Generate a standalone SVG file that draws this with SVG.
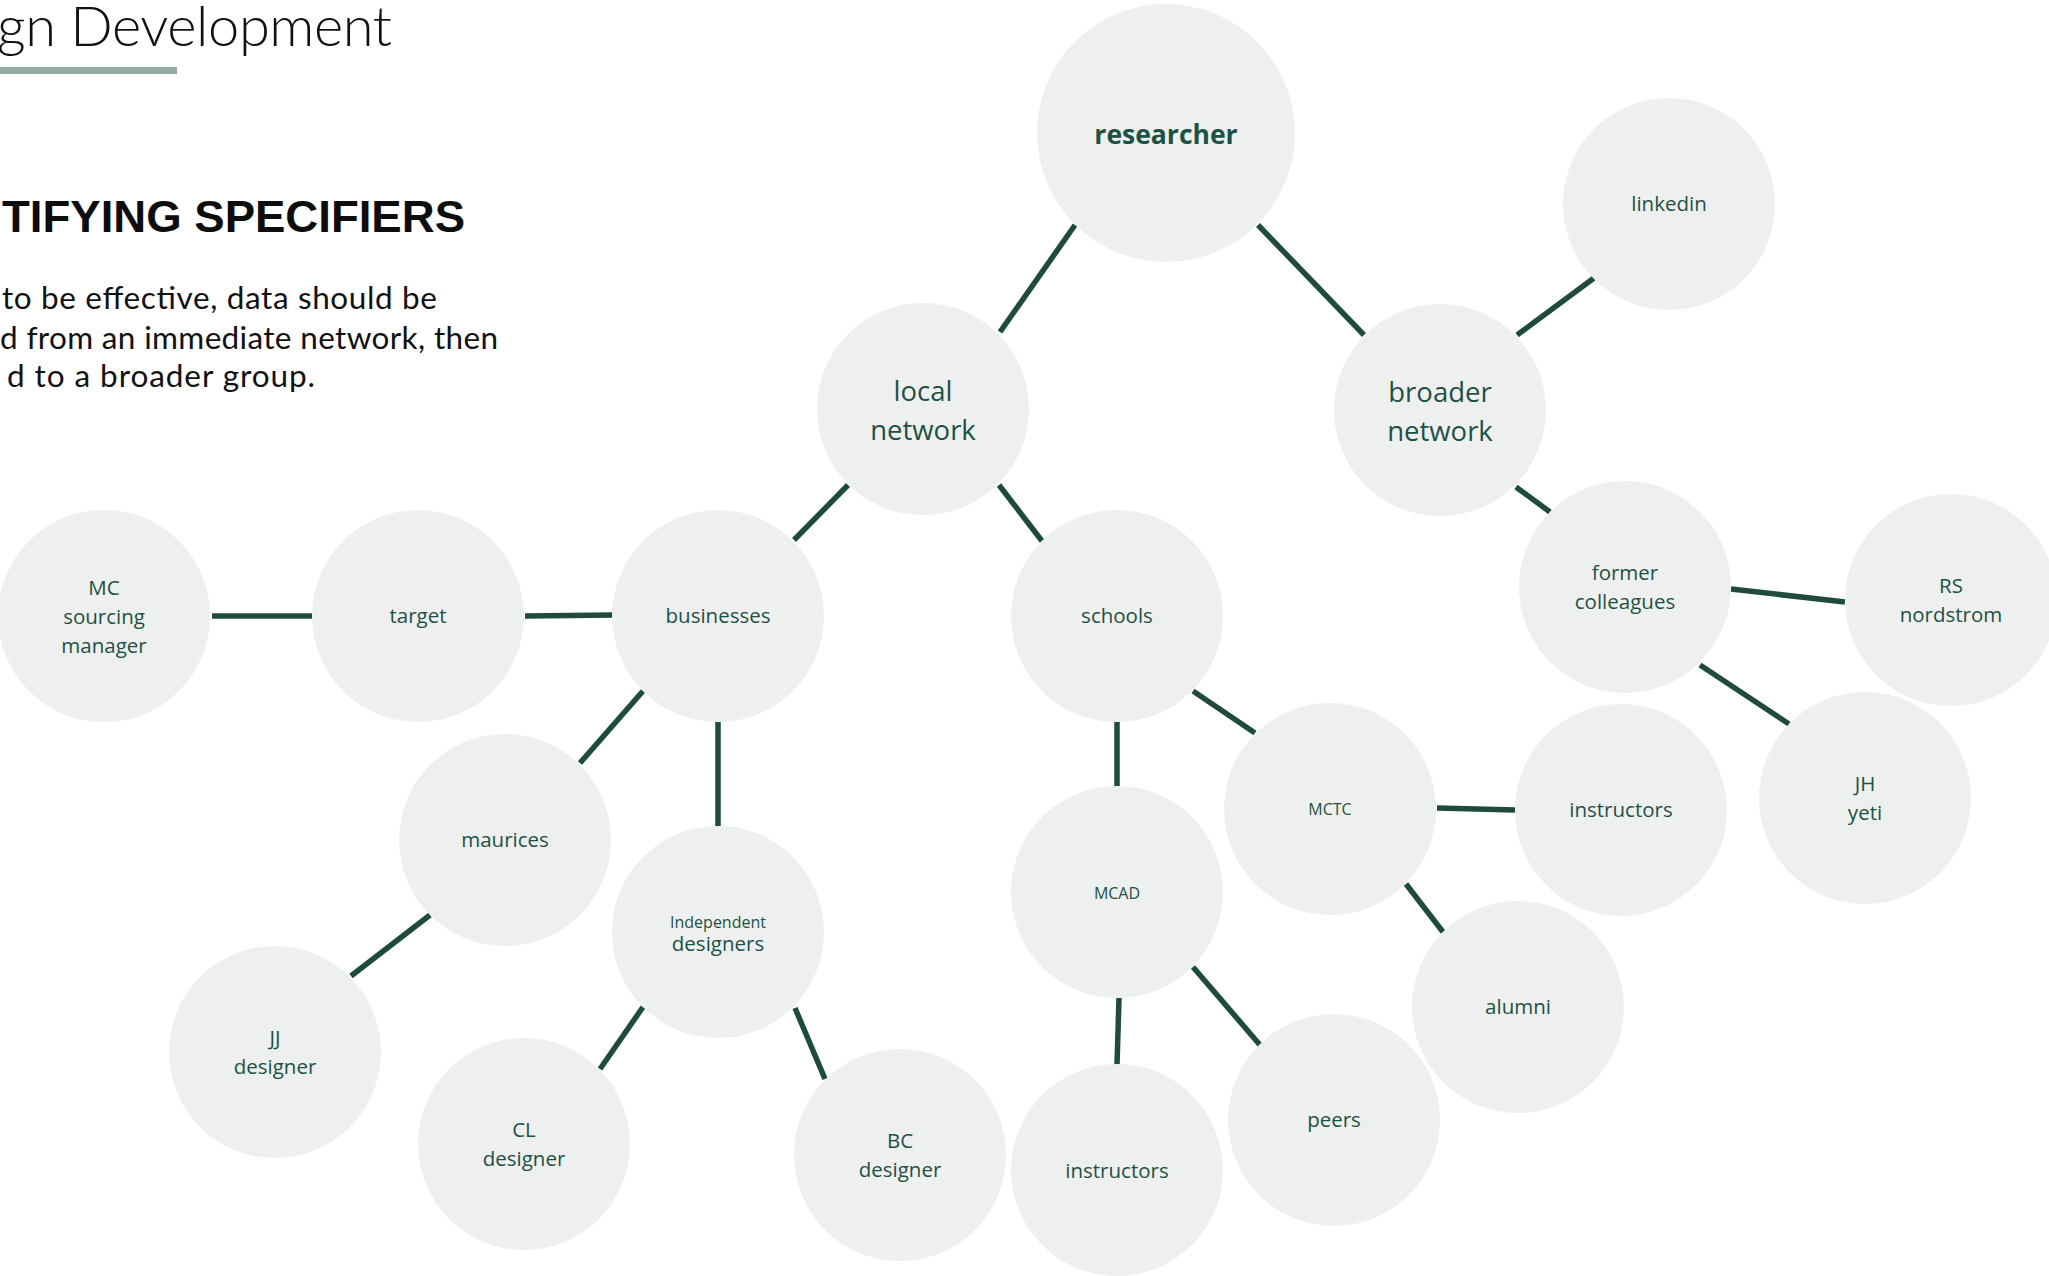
<svg xmlns="http://www.w3.org/2000/svg" width="2049" height="1276" viewBox="0 0 2049 1276">
  <style>
    .node circle { fill: #eef0ef; }
    .node text { font-family: "Open Sans", "Noto Sans", sans-serif; fill: #1e5146; text-anchor: middle; font-size: 20.5px; }
    .node text.big { font-size: 27.5px; }
    .node text.main { font-size: 26.5px; font-weight: 700; }
    .node text.sm { font-size: 16px; }
    .edges line { stroke: #1f4b3f; stroke-width: 5.5; stroke-linecap: butt; }
    .heading { font-family: Lato, "Liberation Sans", sans-serif; fill: #111; }
    .heavy { font-family: "Liberation Sans", Arial, sans-serif; fill: #0d0d0d; font-weight: 700; }
  </style>

  <rect width="2049" height="1276" fill="#ffffff"/>

  <!-- page heading and intro -->
  <g id="header">
    <text class="heading" x="-3" y="46" font-size="56" font-weight="300" textLength="395" lengthAdjust="spacing">gn Development</text>
    <rect x="0" y="67" width="177" height="7" fill="#93aaa5"/>
    <text class="heavy" x="2" y="232" font-size="44" textLength="463" lengthAdjust="spacingAndGlyphs">TIFYING SPECIFIERS</text>
    <text class="heading" x="2" y="309" font-size="31.5" font-weight="400" textLength="435" lengthAdjust="spacing">to be effective, data should be</text>
    <text class="heading" x="0" y="349" font-size="31.5" font-weight="400" textLength="498" lengthAdjust="spacing">d from an immediate network, then</text>
    <text class="heading" x="7" y="387" font-size="31.5" font-weight="400" textLength="308" lengthAdjust="spacing">d to a broader group.</text>
  </g>

  <!-- connectors -->
  <g id="connectors" class="edges">
    <line x1="1075" y1="225" x2="1000" y2="332"/>
    <line x1="1258" y1="225" x2="1364" y2="335"/>
    <line x1="1517" y1="335" x2="1594" y2="278"/>
    <line x1="1516" y1="487" x2="1550" y2="512"/>
    <line x1="1731" y1="589" x2="1845" y2="602"/>
    <line x1="1700" y1="665" x2="1789" y2="724"/>
    <line x1="848" y1="485" x2="794" y2="540"/>
    <line x1="999" y1="485" x2="1042" y2="541"/>
    <line x1="525" y1="616" x2="613" y2="615"/>
    <line x1="212" y1="616" x2="312" y2="616"/>
    <line x1="643" y1="691" x2="580" y2="763"/>
    <line x1="718" y1="721" x2="718" y2="826"/>
    <line x1="430" y1="915" x2="351" y2="976"/>
    <line x1="643" y1="1007" x2="600" y2="1069"/>
    <line x1="795" y1="1008" x2="825" y2="1079"/>
    <line x1="1117" y1="721" x2="1117" y2="786"/>
    <line x1="1193" y1="691" x2="1255" y2="733"/>
    <line x1="1437" y1="808" x2="1515" y2="810"/>
    <line x1="1406" y1="884" x2="1443" y2="932"/>
    <line x1="1119" y1="998" x2="1117" y2="1065"/>
    <line x1="1193" y1="967" x2="1260" y2="1045"/>
  </g>

  <!-- nodes -->
  <g id="researcher" class="node">
    <circle cx="1166" cy="133" r="129"/>
    <text class="main" x="1166" y="144">researcher</text>
  </g>
  <g id="local-network" class="node">
    <circle cx="923" cy="409" r="106"/>
    <text class="big" x="923" y="401">local</text>
    <text class="big" x="923" y="440">network</text>
  </g>
  <g id="broader-network" class="node">
    <circle cx="1440" cy="410" r="106"/>
    <text class="big" x="1440" y="402">broader</text>
    <text class="big" x="1440" y="441">network</text>
  </g>
  <g id="linkedin" class="node">
    <circle cx="1669" cy="204" r="106"/>
    <text x="1669" y="211">linkedin</text>
  </g>
  <g id="former-colleagues" class="node">
    <circle cx="1625" cy="587" r="106"/>
    <text x="1625" y="580">former</text>
    <text x="1625" y="609">colleagues</text>
  </g>
  <g id="rs-nordstrom" class="node">
    <circle cx="1951" cy="600" r="106"/>
    <text x="1951" y="593">RS</text>
    <text x="1951" y="622">nordstrom</text>
  </g>
  <g id="jh-yeti" class="node">
    <circle cx="1865" cy="798" r="106"/>
    <text x="1865" y="791">JH</text>
    <text x="1865" y="820">yeti</text>
  </g>
  <g id="businesses" class="node">
    <circle cx="718" cy="616" r="106"/>
    <text x="718" y="623">businesses</text>
  </g>
  <g id="schools" class="node">
    <circle cx="1117" cy="616" r="106"/>
    <text x="1117" y="623">schools</text>
  </g>
  <g id="target" class="node">
    <circle cx="418" cy="616" r="106"/>
    <text x="418" y="623">target</text>
  </g>
  <g id="mc-sourcing-manager" class="node">
    <circle cx="104" cy="616" r="106"/>
    <text x="104" y="595">MC</text>
    <text x="104" y="624">sourcing</text>
    <text x="104" y="653">manager</text>
  </g>
  <g id="maurices" class="node">
    <circle cx="505" cy="840" r="106"/>
    <text x="505" y="847">maurices</text>
  </g>
  <g id="independent-designers" class="node">
    <circle cx="718" cy="932" r="106"/>
    <text class="sm" x="718" y="928">Independent</text>
    <text x="718" y="951" font-size="18">designers</text>
  </g>
  <g id="jj-designer" class="node">
    <circle cx="275" cy="1052" r="106"/>
    <text x="275" y="1045">JJ</text>
    <text x="275" y="1074">designer</text>
  </g>
  <g id="cl-designer" class="node">
    <circle cx="524" cy="1144" r="106"/>
    <text x="524" y="1137">CL</text>
    <text x="524" y="1166">designer</text>
  </g>
  <g id="bc-designer" class="node">
    <circle cx="900" cy="1155" r="106"/>
    <text x="900" y="1148">BC</text>
    <text x="900" y="1177">designer</text>
  </g>
  <g id="mcad" class="node">
    <circle cx="1117" cy="892" r="106"/>
    <text class="sm" x="1117" y="899">MCAD</text>
  </g>
  <g id="mcad-instructors" class="node">
    <circle cx="1117" cy="1170" r="106"/>
    <text x="1117" y="1178">instructors</text>
  </g>
  <g id="peers" class="node">
    <circle cx="1334" cy="1120" r="106"/>
    <text x="1334" y="1127">peers</text>
  </g>
  <g id="mctc" class="node">
    <circle cx="1330" cy="809" r="106"/>
    <text class="sm" x="1330" y="815">MCTC</text>
  </g>
  <g id="mctc-instructors" class="node">
    <circle cx="1621" cy="810" r="106"/>
    <text x="1621" y="817">instructors</text>
  </g>
  <g id="alumni" class="node">
    <circle cx="1518" cy="1007" r="106"/>
    <text x="1518" y="1014">alumni</text>
  </g>
</svg>
